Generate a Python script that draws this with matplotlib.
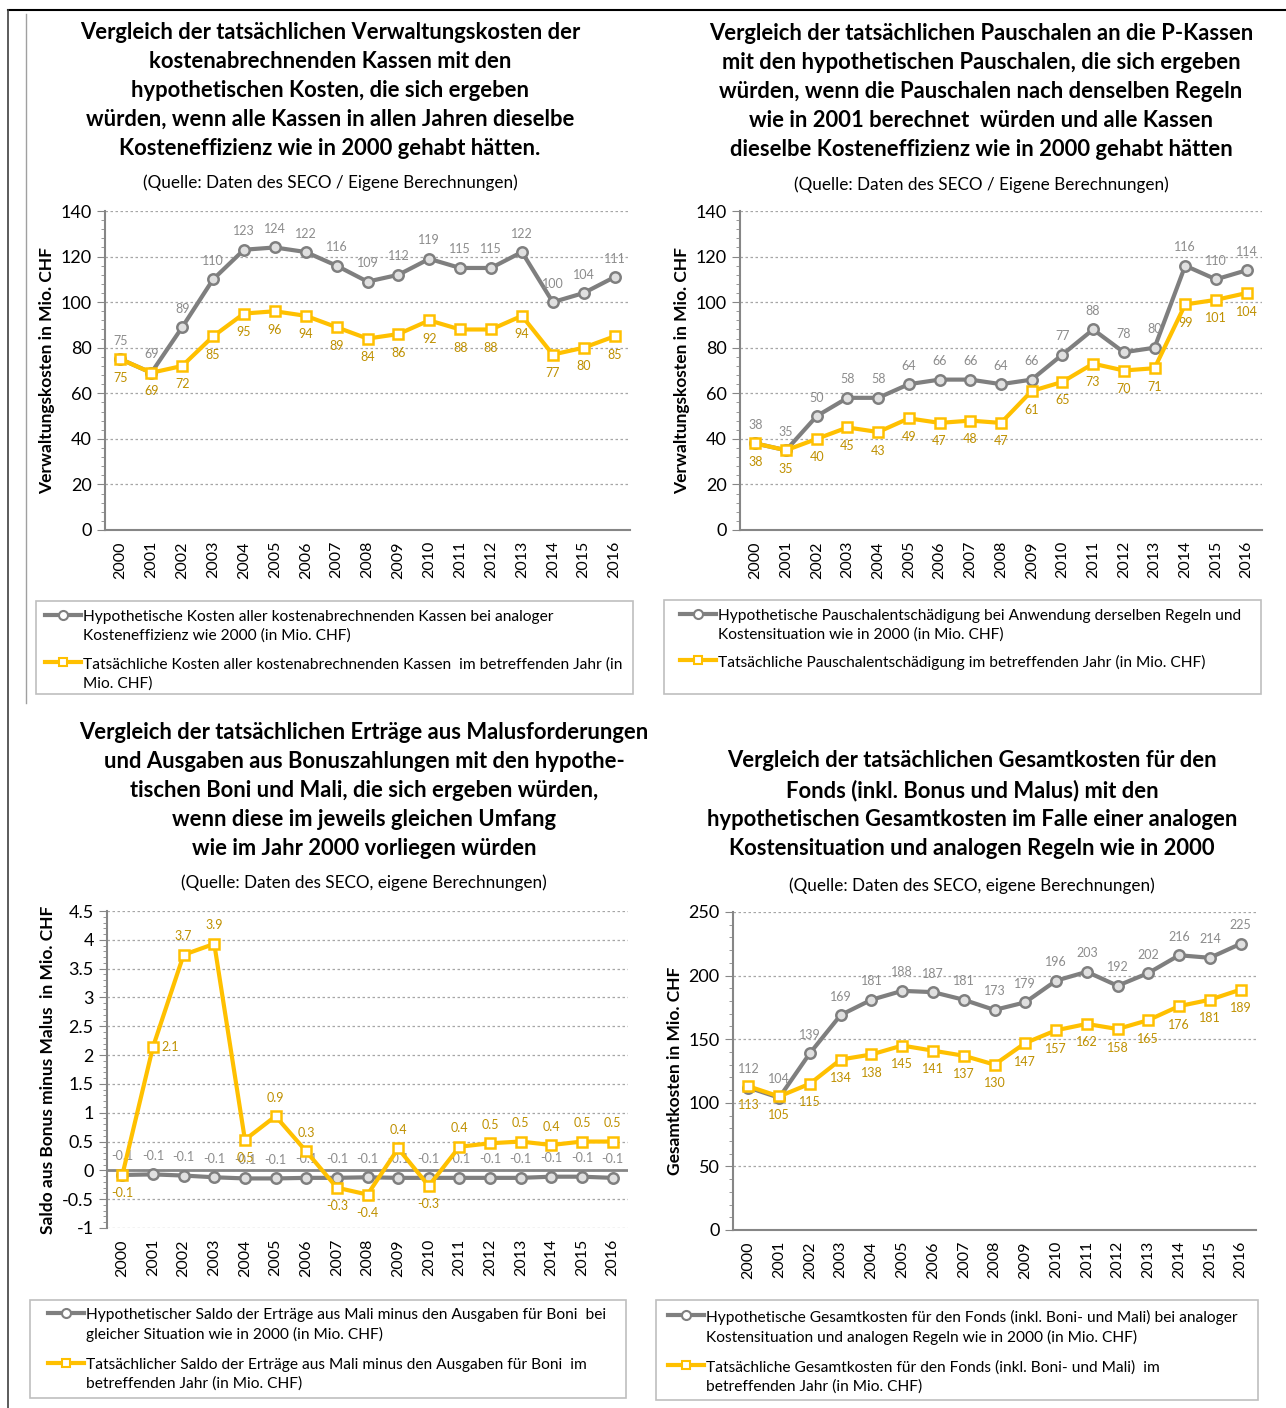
import matplotlib
matplotlib.use("Agg")
import matplotlib.pyplot as plt
from matplotlib.lines import Line2D
from matplotlib.patches import Rectangle
from matplotlib.ticker import MultipleLocator

plt.rcParams["font.family"] = ["Lato", "DejaVu Sans"]

W, H = 1286, 1408
years = [str(y) for y in range(2000, 2017)]

# top left: Verwaltungskosten kostenabrechnende Kassen
tl_hyp = [75, 69, 89, 110, 123, 124, 122, 116, 109, 112, 119, 115, 115, 122, 100, 104, 111]
tl_act = [75, 69, 72, 85, 95, 96, 94, 89, 84, 86, 92, 88, 88, 94, 77, 80, 85]

# top right: Pauschalen P-Kassen
tr_hyp = [38, 35, 50, 58, 58, 64, 66, 66, 64, 66, 77, 88, 78, 80, 116, 110, 114]
tr_act = [38, 35, 40, 45, 43, 49, 47, 48, 47, 61, 65, 73, 70, 71, 99, 101, 104]

# bottom left: Saldo Bonus minus Malus
bl_hyp = [-0.08, -0.07, -0.09, -0.12, -0.14, -0.14, -0.13, -0.13, -0.12, -0.13,
          -0.13, -0.13, -0.13, -0.13, -0.11, -0.11, -0.13]
bl_act = [-0.08, 2.14, 3.74, 3.93, 0.53, 0.94, 0.33, -0.3, -0.42, 0.38,
          -0.27, 0.41, 0.47, 0.5, 0.44, 0.5, 0.5]
# where the yellow labels sit (a=above, b=below, r=right)
bl_act_pos = ["b", "r", "a", "a", "b", "a", "a", "b", "b", "a",
              "b", "a", "a", "a", "a", "a", "a"]

# bottom right: Gesamtkosten Fonds
br_hyp = [112, 104, 139, 169, 181, 188, 187, 181, 173, 179, 196, 203, 192, 202, 216, 214, 225]
br_act = [113, 105, 115, 134, 138, 145, 141, 137, 130, 147, 157, 162, 158, 165, 176, 181, 189]

GRAY = "#7F7F7F"
GOLD = "#FFC000"
GRAY_TXT = "#8C8C8C"
GOLD_TXT = "#BF9000"
AX_COL = "#868686"

fig = plt.figure(figsize=(W / 100, H / 100), dpi=100)


def fx(px):
    return px / W


def fy(py):
    return 1 - py / H


def panel(rect, hyp, act, ylim, major, ylabel, fmt, act_pos=None, zero_line=False):
    l, t, r, b = rect
    ax = fig.add_axes([fx(l), fy(b), (r - l) / W, (b - t) / H])
    x = list(range(len(years)))
    ax.plot(x, hyp, color=GRAY, lw=3, marker="o", ms=7.5, mfc="#E0E0E0",
            mec=GRAY, mew=1.8, zorder=3)
    ax.plot(x, act, color=GOLD, lw=3, marker="s", ms=6.5, mfc="white",
            mec=GOLD, mew=1.8, zorder=4)
    for i, v in enumerate(hyp):
        ax.annotate(fmt(v), (i, v), xytext=(0, 9), textcoords="offset points",
                    ha="center", va="bottom", fontsize=9, color=GRAY_TXT)
    for i, v in enumerate(act):
        p = act_pos[i] if act_pos else "b"
        if p == "a":
            off, va, ha = (0, 9), "bottom", "center"
        elif p == "r":
            off, va, ha = (6, 0), "center", "left"
        else:
            off, va, ha = (0, -9), "top", "center"
        ax.annotate(fmt(v), (i, v), xytext=off, textcoords="offset points",
                    ha=ha, va=va, fontsize=9, color=GOLD_TXT)
    ax.set_xlim(-0.5, len(years) - 0.5)
    ax.set_ylim(*ylim)
    ax.yaxis.set_major_locator(MultipleLocator(major))
    ax.yaxis.set_minor_locator(MultipleLocator(major / 5))
    ax.set_xticks(x)
    ax.set_xticklabels(years, rotation=90, fontsize=11.5)
    ax.tick_params(axis="x", length=0, pad=8)
    ax.tick_params(axis="y", which="major", length=6, color=AX_COL, labelsize=13)
    ax.tick_params(axis="y", which="minor", length=3, color=AX_COL)
    ax.grid(axis="y", color="#A6A6A6", ls=(0, (2, 2)), lw=0.9)
    ax.set_axisbelow(True)
    for s in ["top", "right"]:
        ax.spines[s].set_visible(False)
    ax.spines["left"].set_color(AX_COL)
    ax.spines["left"].set_linewidth(1.5)
    if zero_line:
        ax.spines["bottom"].set_visible(False)
        ax.axhline(0, color=AX_COL, lw=2, zorder=2)
    else:
        ax.spines["bottom"].set_color(AX_COL)
        ax.spines["bottom"].set_linewidth(1.5)
    ax.set_ylabel(ylabel, fontsize=12.5, fontweight="bold")
    return ax


def legend(rect, text_x, rows, labels):
    l, t, r, b = rect
    fig.add_artist(Rectangle((fx(l), fy(b)), (r - l) / W, (b - t) / H,
                             transform=fig.transFigure, fill=False,
                             edgecolor="#BFBFBF", lw=1.2))
    styles = [(GRAY, "o", 6.5), (GOLD, "s", 6)]
    for (col, mk, ms), y, lab in zip(styles, rows, labels):
        x0, x1 = text_x - 38, text_x - 2
        fig.add_artist(Line2D([fx(x0), fx(x1)], [fy(y), fy(y)], lw=3, color=col))
        fig.add_artist(Line2D([fx((x0 + x1) / 2)], [fy(y)], lw=0, marker=mk, ms=ms,
                              mfc="white", mec=col, mew=1.5))
        fig.text(fx(text_x), fy(y - 5), lab, ha="left", va="top",
                 fontsize=11.2, linespacing=1.42)


def title(xc, y, text, sub, sub_y):
    fig.text(fx(xc), fy(y), text, ha="center", va="top", fontsize=15.8,
             fontweight="bold", linespacing=1.47)
    fig.text(fx(xc), fy(sub_y), sub, ha="center", va="center", fontsize=12.3)


fmt0 = lambda v: f"{v:.0f}"
fmt1 = lambda v: f"{v:.1f}"

# top left
title(330, 22,
      "Vergleich der tatsächlichen Verwaltungskosten der\n"
      "kostenabrechnenden Kassen mit den\n"
      "hypothetischen Kosten, die sich ergeben\n"
      "würden, wenn alle Kassen in allen Jahren dieselbe\n"
      "Kosteneffizienz wie in 2000 gehabt hätten.",
      "(Quelle: Daten des SECO / Eigene Berechnungen)", 183)
panel((105, 211, 630, 530), tl_hyp, tl_act, (0, 140), 20,
      "Verwaltungskosten in Mio. CHF", fmt0)
legend((36, 601, 633, 694), 83, (615, 662),
       ["Hypothetische Kosten aller kostenabrechnenden Kassen bei analoger\n"
        "Kosteneffizienz wie 2000 (in Mio. CHF)",
        "Tatsächliche Kosten aller kostenabrechnenden Kassen  im betreffenden Jahr (in\n"
        "Mio. CHF)"])

# top right
title(981, 23,
      "Vergleich der tatsächlichen Pauschalen an die P-Kassen\n"
      "mit den hypothetischen Pauschalen, die sich ergeben\n"
      "würden, wenn die Pauschalen nach denselben Regeln\n"
      "wie in 2001 berechnet  würden und alle Kassen\n"
      "dieselbe Kosteneffizienz wie in 2000 gehabt hätten",
      "(Quelle: Daten des SECO / Eigene Berechnungen)", 185)
panel((740, 211, 1262, 530), tr_hyp, tr_act, (0, 140), 20,
      "Verwaltungskosten in Mio. CHF", fmt0)
legend((664, 600, 1261, 694), 718, (614, 660),
       ["Hypothetische Pauschalentschädigung bei Anwendung derselben Regeln und\n"
        "Kostensituation wie in 2000 (in Mio. CHF)",
        "Tatsächliche Pauschalentschädigung im betreffenden Jahr (in Mio. CHF)"])

# bottom left
title(364, 722,
      "Vergleich der tatsächlichen Erträge aus Malusforderungen\n"
      "und Ausgaben aus Bonuszahlungen mit den hypothe-\n"
      "tischen Boni und Mali, die sich ergeben würden,\n"
      "wenn diese im jeweils gleichen Umfang\n"
      "wie im Jahr 2000 vorliegen würden",
      "(Quelle: Daten des SECO, eigene Berechnungen)", 883)
ax = panel((107, 911, 628, 1228), bl_hyp, bl_act, (-1, 4.5), 0.5,
           "Saldo aus Bonus minus Malus  in Mio. CHF", fmt1, bl_act_pos, zero_line=True)
ax.set_yticks([-1, -0.5, 0, 0.5, 1, 1.5, 2, 2.5, 3, 3.5, 4, 4.5])
ax.set_yticklabels(["-1", "-0.5", "0", "0.5", "1", "1.5", "2", "2.5", "3", "3.5", "4", "4.5"])
legend((30, 1300, 626, 1398), 86, (1313, 1363),
       ["Hypothetischer Saldo der Erträge aus Mali minus den Ausgaben für Boni  bei\n"
        "gleicher Situation wie in 2000 (in Mio. CHF)",
        "Tatsächlicher Saldo der Erträge aus Mali minus den Ausgaben für Boni  im\n"
        "betreffenden Jahr (in Mio. CHF)"])

# bottom right
title(972, 750,
      "Vergleich der tatsächlichen Gesamtkosten für den\n"
      "Fonds (inkl. Bonus und Malus) mit den\n"
      "hypothetischen Gesamtkosten im Falle einer analogen\n"
      "Kostensituation und analogen Regeln wie in 2000",
      "(Quelle: Daten des SECO, eigene Berechnungen)", 886)
panel((733, 912, 1256, 1230), br_hyp, br_act, (0, 250), 50,
      "Gesamtkosten in Mio. CHF", fmt0)
legend((656, 1300, 1258, 1400), 706, (1315, 1365),
       ["Hypothetische Gesamtkosten für den Fonds (inkl. Boni- und Mali) bei analoger\n"
        "Kostensituation und analogen Regeln wie in 2000 (in Mio. CHF)",
        "Tatsächliche Gesamtkosten für den Fonds (inkl. Boni- und Mali)  im\n"
        "betreffenden Jahr (in Mio. CHF)"])

# page frame lines
fig.add_artist(Line2D([fx(8), 1], [fy(10), fy(10)], color="black", lw=1.5))
fig.add_artist(Line2D([fx(8), fx(8)], [fy(10), 0], color="#404040", lw=1.2))
fig.add_artist(Line2D([fx(26), fx(26)], [fy(14), fy(703)], color="#A0A0A0", lw=1.0))

fig.savefig("out.png", dpi=100)
